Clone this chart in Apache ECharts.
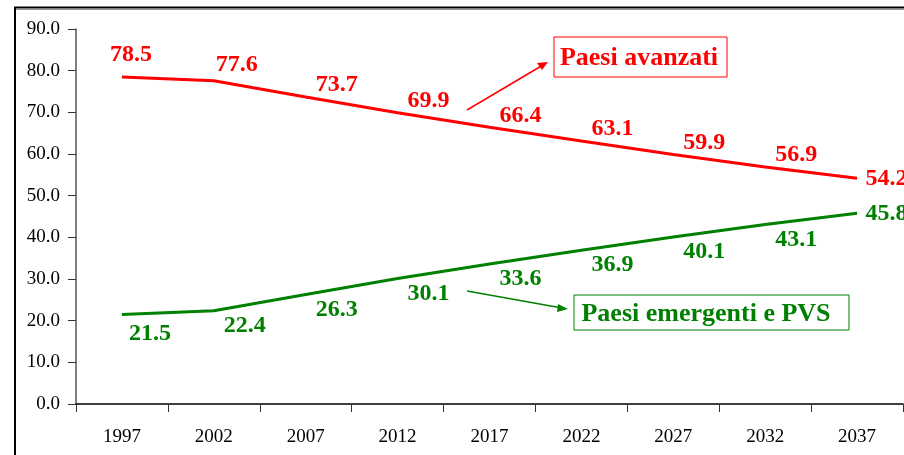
<!DOCTYPE html>
<html>
<head>
<meta charset="utf-8">
<title>Paesi avanzati / Paesi emergenti e PVS</title>
<script src="https://cdn.jsdelivr.net/npm/echarts@6/dist/echarts.min.js"></script>
<style>
  html, body { margin: 0; padding: 0; background: #fff; }
  #chart { width: 904px; height: 455px; }
</style>
</head>
<body>
<div id="chart"></div>
<script>
// dati
var years = ['1997', '2002', '2007', '2012', '2017', '2022', '2027', '2032', '2037'];
var avanzati = [78.5, 77.6, 73.7, 69.9, 66.4, 63.1, 59.9, 56.9, 54.2];
var emergenti = [21.5, 22.4, 26.3, 30.1, 33.6, 36.9, 40.1, 43.1, 45.8];
var yTicks = [0, 10, 20, 30, 40, 50, 60, 70, 80, 90];

var serif = '"Liberation Serif", "DejaVu Serif", serif';

// etichette spostate a mano come nell'originale: alcune eccezioni, l'ultima a destra
function withLabels(arr, special) {
    return arr.map(function (v, i) {
        if (i === arr.length - 1) {
            return { value: v, label: { position: 'right', distance: 8, offset: [0, 1] } };
        }
        if (special[i]) return { value: v, label: { offset: special[i] } };
        return v;
    });
}

var chart = echarts.init(document.getElementById('chart'));
chart.setOption({
    animation: false,
    grid: { left: 76, top: 29, right: 1, bottom: 51 },
    xAxis: {
        type: 'category',
        data: years,
        boundaryGap: true,
        axisLine: { lineStyle: { color: '#000', width: 1.5 } },
        axisTick: { show: true, length: 8, lineStyle: { color: '#333' } },
        axisLabel: { color: '#000', fontFamily: serif, fontSize: 19, margin: 24 }
    },
    yAxis: {
        type: 'value',
        min: yTicks[0],
        max: yTicks[yTicks.length - 1],
        interval: 10,
        splitLine: { show: false },
        axisLine: { show: true, lineStyle: { color: '#555', width: 1.5 } },
        axisTick: { show: true, length: 8, lineStyle: { color: '#333' } },
        axisLabel: {
            color: '#000', fontFamily: serif, fontSize: 19, margin: 16,
            formatter: function (v) { return v.toFixed(1); }
        }
    },
    series: [
        {
            name: 'Paesi avanzati',
            type: 'line',
            data: withLabels(avanzati, { 0: [9, -22], 1: [23, -16] }),
            symbol: 'circle',
            symbolSize: 1,
            itemStyle: { color: 'rgba(0,0,0,0)' },
            lineStyle: { color: '#ff0000', width: 3 },
            label: {
                show: true, position: 'inside', offset: [31, -12],
                color: '#ff0000', fontFamily: serif, fontWeight: 'bold', fontSize: 24,
                formatter: function (p) { return p.value.toFixed(1); }
            }
        },
        {
            name: 'Paesi emergenti e PVS',
            type: 'line',
            data: withLabels(emergenti, { 0: [28, 19] }),
            symbol: 'circle',
            symbolSize: 1,
            itemStyle: { color: 'rgba(0,0,0,0)' },
            lineStyle: { color: '#008000', width: 3 },
            label: {
                show: true, position: 'inside', offset: [31, 15],
                color: '#008000', fontFamily: serif, fontWeight: 'bold', fontSize: 24,
                formatter: function (p) { return p.value.toFixed(1); }
            }
        }
    ],
    graphic: [
        // cornice esterna
        { type: 'rect', shape: { x: 15, y: 7.5, width: 1000, height: 1000 },
          style: { fill: 'none', stroke: '#000', lineWidth: 2 }, z: 10 },
        { type: 'line', shape: { x1: 16, y1: 9.5, x2: 904, y2: 9.5 },
          style: { stroke: '#999', lineWidth: 1 }, z: 10 },
        // etichetta Paesi avanzati
        { type: 'rect', shape: { x: 554, y: 37, width: 173, height: 40 },
          style: { fill: '#fff', stroke: '#ff0000', lineWidth: 1 } },
        { type: 'text', x: 639, y: 58,
          style: { text: 'Paesi avanzati', fill: '#ff0000', font: 'bold 26px ' + serif,
                   textAlign: 'center', textVerticalAlign: 'middle' } },
        { type: 'line', shape: { x1: 467, y1: 110, x2: 543, y2: 65 },
          style: { stroke: '#ff0000', lineWidth: 1.5 } },
        { type: 'polygon', shape: { points: [[548, 62], [537, 63], [542, 70]] },
          style: { fill: '#ff0000' } },
        // etichetta Paesi emergenti
        { type: 'rect', shape: { x: 574, y: 295, width: 275, height: 35 },
          style: { fill: '#fff', stroke: '#008000', lineWidth: 1 } },
        { type: 'text', x: 706, y: 314,
          style: { text: 'Paesi emergenti e PVS', fill: '#008000', font: 'bold 26px ' + serif,
                   textAlign: 'center', textVerticalAlign: 'middle' } },
        { type: 'line', shape: { x1: 467, y1: 291, x2: 562, y2: 308 },
          style: { stroke: '#008000', lineWidth: 1.5 } },
        { type: 'polygon', shape: { points: [[568, 309], [558, 304], [557, 312]] },
          style: { fill: '#008000' } }
    ]
});
</script>
</body>
</html>
